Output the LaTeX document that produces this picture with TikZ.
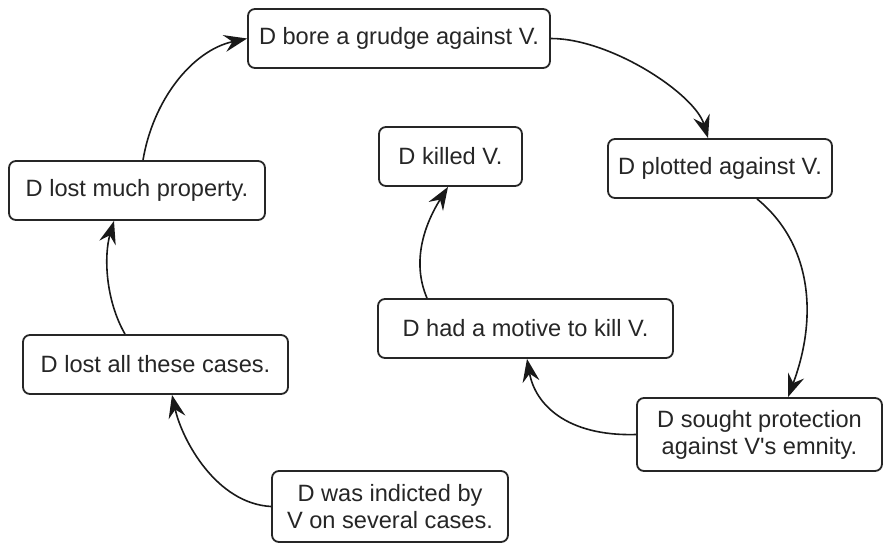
\documentclass[tikz,border=0pt]{standalone}
\usepackage{fontspec}
\setmainfont{Liberation Sans}
\usetikzlibrary{arrows.meta}
\begin{document}
\begin{tikzpicture}[x=1pt,y=-1pt,
  event/.style={draw=black!85, line width=1.8pt, rounded corners=7pt, fill=white,
    text=black!85, align=center, inner sep=0pt,
    font=\fontsize{23.6}{27}\selectfont},
  link/.style={line width=1.6pt, black!90,
    -{Stealth[length=23pt,width=17pt,inset=8pt]}}]
\useasboundingbox (0,0) rectangle (883,543);

% events
\node[event, minimum width=302pt, minimum height=59pt] (grudge)   at (399,38.5)  {D bore a grudge against V.};
\node[event, minimum width=224pt, minimum height=59pt] (plotted)  at (720,168.5) {D plotted against V.};
\node[event, minimum width=143pt, minimum height=59pt] (killed)   at (450.5,156.5) {D killed V.};
\node[event, minimum width=256pt, minimum height=59pt] (property) at (137,190.5) {D lost much property.};
\node[event, minimum width=295pt, minimum height=59pt] (motive)   at (525.5,328.5) {D had a motive to kill V.};
\node[event, minimum width=265pt, minimum height=59pt] (lost)     at (155.5,364.5) {D lost all these cases.};
\node[event, minimum width=245pt, minimum height=73pt] (sought)   at (759.5,434.5) {D sought protection\\against V\textquotesingle s emnity.};
\node[event, minimum width=236pt, minimum height=71pt] (indicted) at (390,506.5) {D was indicted by\\V on several cases.};

% causal links
\draw[link] (indicted.west) .. controls +(-55,-3) and +(10,45) .. ([xshift=16.5pt]lost.south);
\draw[link] ([xshift=-30.5pt]lost.north) .. controls +(-20,-35) and +(-10,34) .. ([xshift=-23pt]property.south);
\draw[link] ([xshift=6pt]property.north) .. controls +(10,-60) and +(-55,12) .. (grudge.west);
\draw[link] (grudge.east) .. controls +(60,0) and +(-13,-44) .. ([xshift=-12pt]plotted.north);
\draw[link] ([xshift=37pt]plotted.south) .. controls +(55,45) and +(30,-80) .. ([xshift=28.5pt]sought.north);
\draw[link] (sought.west) .. controls +(-70,2) and +(8,45) .. ([xshift=1.5pt]motive.south);
\draw[link] ([xshift=-98.5pt]motive.north) .. controls +(-15,-35) and +(-25,40) .. ([xshift=-2.5pt]killed.south);
\end{tikzpicture}
\end{document}
